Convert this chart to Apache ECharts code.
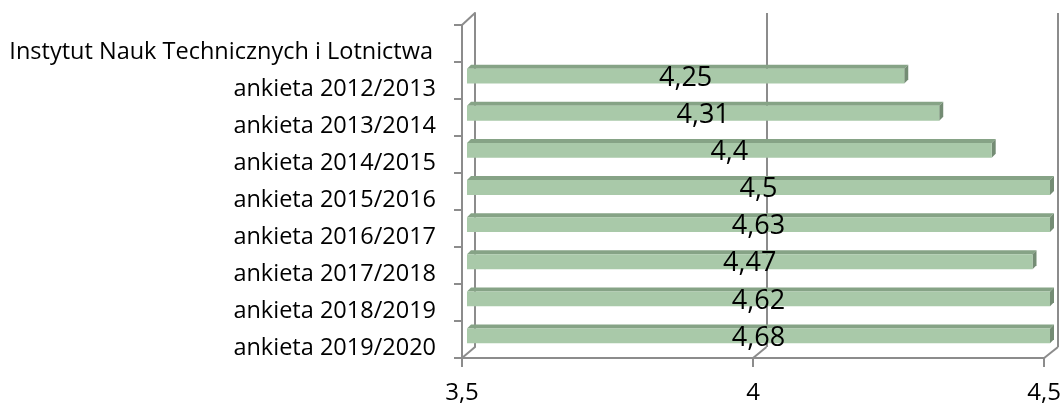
<!DOCTYPE html>
<html>
<head>
<meta charset="utf-8">
<script src="https://cdn.jsdelivr.net/npm/echarts@6/dist/echarts.min.js"></script>
<style>
  html, body { margin: 0; padding: 0; background: #fff; }
  #chart { width: 1064px; height: 405px; }
</style>
</head>
<body>
<div id="chart"></div>
<script>
// dane z wykresu
const categories = [
  'Instytut Nauk Technicznych i Lotnictwa',
  'ankieta 2012/2013',
  'ankieta 2013/2014',
  'ankieta 2014/2015',
  'ankieta 2015/2016',
  'ankieta 2016/2017',
  'ankieta 2017/2018',
  'ankieta 2018/2019',
  'ankieta 2019/2020'
];
const scores = [null, 4.25, 4.31, 4.4, 4.5, 4.63, 4.47, 4.62, 4.68];
const axisMin = 3.5;
const axisMax = 4.5;
const axisStep = 0.5;

const FONT = '"Open Sans", sans-serif';
const LINE = '#8c8c8c';
const fmt = v => String(v).replace('.', ',');

const chart = echarts.init(document.getElementById('chart'));

const barData = scores.map((v, i) => [v, i]).filter(d => d[0] != null);

// rysowanie słupka 3D (przód, góra, bok)
function renderBar(params, api) {
  const v = api.value(0);
  const cat = api.value(1);
  const shown = Math.min(v, axisMax);
  const p0 = api.coord([axisMin, cat]);
  const p1 = api.coord([shown, cat]);
  const band = api.size([0, 1])[1];
  const h = band * 0.4;
  const d = 4;
  const x0 = p0[0], x1 = p1[0];
  const yT = p0[1] - h / 2, yB = p0[1] + h / 2;
  const mid = api.coord([(axisMin + shown) / 2, cat]);
  return {
    type: 'group',
    children: [
      { type: 'polygon', shape: { points: [[x0, yT], [x0 + d, yT - d], [x1 + d, yT - d], [x1, yT]] },
        style: { fill: '#86a386' } },
      { type: 'polygon', shape: { points: [[x1, yT], [x1 + d, yT - d], [x1 + d, yB - d], [x1, yB]] },
        style: { fill: '#748c74' } },
      { type: 'rect', shape: { x: x0, y: yT, width: x1 - x0, height: h },
        style: { fill: '#a9c9a9' } },
      { type: 'text', x: mid[0], y: mid[1] + 2,
        style: { text: fmt(v), fill: '#000', font: '27px ' + FONT, align: 'center', verticalAlign: 'middle' } }
    ]
  };
}

chart.setOption({
  animation: false,
  grid: [
    { left: 462, top: 25, width: 583, height: 333 },   // płaszczyzna przednia
    { left: 475, top: 13, width: 583, height: 334 },   // tylna ściana
    { left: 467, top: 20.5, width: 583, height: 334 }  // słupki
  ],
  xAxis: [
    { gridIndex: 0, type: 'value', min: axisMin, max: axisMax, interval: axisStep,
      axisLine: { show: true, lineStyle: { color: LINE, width: 2 } },
      axisTick: { show: true, length: 9, lineStyle: { color: LINE, width: 2 } },
      axisLabel: { formatter: fmt, margin: 23, color: '#000', fontFamily: FONT, fontSize: 24 },
      splitLine: { show: false } },
    { gridIndex: 1, type: 'value', min: axisMin, max: axisMax, interval: axisStep,
      axisLine: { show: false }, axisTick: { show: false }, axisLabel: { show: false },
      splitLine: { show: true, lineStyle: { color: LINE, width: 2 } } },
    { gridIndex: 2, type: 'value', min: axisMin, max: axisMax, show: false }
  ],
  yAxis: [
    { gridIndex: 0, type: 'category', data: categories, inverse: true,
      axisLine: { show: true, lineStyle: { color: LINE, width: 2 } },
      axisTick: { show: true, length: 8, lineStyle: { color: LINE, width: 2 } },
      axisLabel: {
        margin: 26, color: '#000', fontFamily: FONT, fontSize: 23.5,
        verticalAlign: 'top', lineHeight: 17,
        formatter: (val, i) => i === 0 ? '{inst|' + val + '}' : val,
        rich: { inst: { fontFamily: FONT, fontSize: 23.5, lineHeight: 17, padding: [0, 3, 0, 0] } }
      } },
    { gridIndex: 1, type: 'category', data: categories, inverse: true,
      axisLine: { show: true, lineStyle: { color: LINE, width: 2 } },
      axisTick: { show: false }, axisLabel: { show: false } },
    { gridIndex: 2, type: 'category', data: categories, inverse: true, show: false }
  ],
  series: [{
    type: 'custom',
    xAxisIndex: 2,
    yAxisIndex: 2,
    z: 10,
    renderItem: renderBar,
    encode: { x: 0, y: 1 },
    data: barData,
    clip: false
  }]
});

// ukośne krawędzie łączące przód z tyłem
const edges = [];
const front = (x, y) => chart.convertToPixel({ xAxisIndex: 0, yAxisIndex: 0 }, [x, y]);
const back = (x, y) => chart.convertToPixel({ xAxisIndex: 1, yAxisIndex: 1 }, [x, y]);
const topF = chart.getModel().getComponent('grid', 0).coordinateSystem.getRect();
const topB = chart.getModel().getComponent('grid', 1).coordinateSystem.getRect();
edges.push([[topF.x, topF.y], [topB.x, topB.y]]);
for (let v = axisMin; v <= axisMax + 1e-9; v += axisStep) {
  const f = front(v, 0)[0], b = back(v, 0)[0];
  edges.push([[f, topF.y + topF.height], [b, topB.y + topB.height]]);
}
chart.setOption({
  graphic: edges.map(e => ({
    type: 'line', silent: true, z: 0,
    shape: { x1: e[0][0], y1: e[0][1], x2: e[1][0], y2: e[1][1] },
    style: { stroke: LINE, lineWidth: 2 }
  }))
});
</script>
</body>
</html>
